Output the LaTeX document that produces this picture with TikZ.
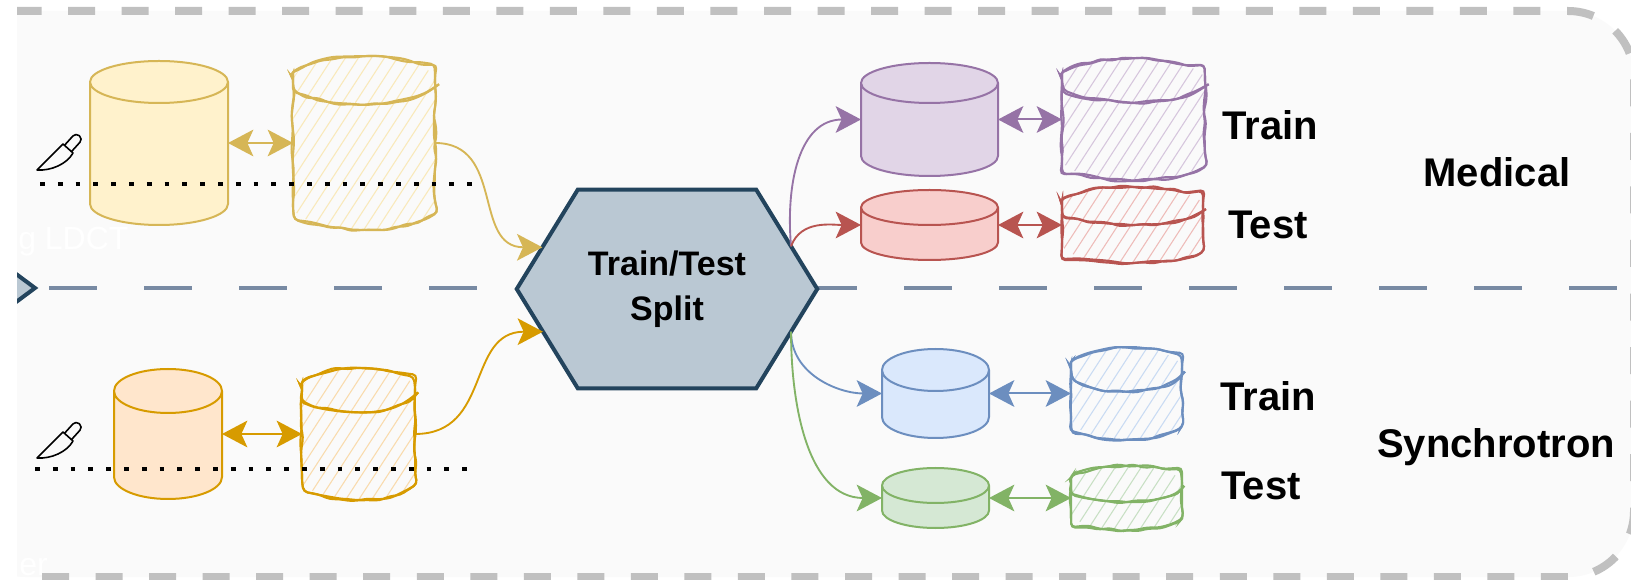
\documentclass[tikz,border=0pt]{standalone}
\usepackage{fontspec}
\setmainfont{Liberation Sans}
\usepackage{xcolor}
\definecolor{bgFill}{HTML}{FAFAFA}
\definecolor{rimGray}{HTML}{C0C0C0}
\definecolor{laneLine}{HTML}{788AA3}
\definecolor{hexFill}{HTML}{BAC8D3}
\definecolor{hexLine}{HTML}{23445D}
\definecolor{yelFill}{HTML}{FFF2CC}
\definecolor{yelLine}{HTML}{D6B656}
\definecolor{orgFill}{HTML}{FFE6CC}
\definecolor{orgLine}{HTML}{D79B00}
\definecolor{purFill}{HTML}{E1D5E7}
\definecolor{purLine}{HTML}{9673A6}
\definecolor{redFill}{HTML}{F8CECC}
\definecolor{redLine}{HTML}{B85450}
\definecolor{bluFill}{HTML}{DAE8FC}
\definecolor{bluLine}{HTML}{6C8EBF}
\definecolor{grnFill}{HTML}{D5E8D4}
\definecolor{grnLine}{HTML}{82B366}
\usepackage{tikz}
\usetikzlibrary{%
    arrows.meta,
    positioning,
    calc,
    decorations.pathmorphing
}

\tikzset{bigtip/.tip={Stealth[length=19pt, width=20pt, inset=4.5pt]}}

% body of a database drum filling node #1, cap half-height #2 (px)
\newcommand\dbbody[2]{%
  let \p1=(#1.north west), \p2=(#1.south east),
      \n1={(\x2-\x1)/2}, \n2={#2*0.75pt} in
  (\x1,\y1-\n2) -- (\x1,\y2+\n2)
  arc[start angle=180, end angle=360, x radius=\n1, y radius=\n2]
  -- (\x2,\y1-\n2)
  arc[start angle=0, end angle=180, x radius=\n1, y radius=\n2] -- cycle}
% front rim of the lid
\newcommand\dblid[2]{%
  let \p1=(#1.north west), \p2=(#1.south east),
      \n1={(\x2-\x1)/2}, \n2={#2*0.75pt} in
  (\x1,\y1-\n2) arc[start angle=180, end angle=360, x radius=\n1, y radius=\n2]}

\newcommand\plaindb[4]{%
  \draw[#3, fill=#4, line width=1.5pt] \dbbody{#1}{#2} \dblid{#1}{#2};}

% hand drawn drum: hatching, then two wobbly outlines
\newcommand\sketchdb[5]{%
  \begin{scope}
    \clip \dbbody{#1}{#2};
    \foreach \k in {-13,...,13}
      \draw[#4, line width=0.8pt] ($(#1.south)+(\k*13,0)$) -- ++(57:260);
  \end{scope}
  \pgfmathsetseed{#5}
  \foreach \pass in {1,2}{
    \pgfmathsetmacro\dx{2.5*rand}
    \pgfmathsetmacro\dy{2.5*rand}
    \draw[#3, line width=1.6pt, rounded corners=3pt, shift={(\dx,\dy)}, decorate,
          decoration={random steps, segment length=8pt, amplitude=1.3pt}]
      \dbbody{#1}{#2} \dblid{#1}{#2};}}

\newcommand\knife[1]{%
  \begin{scope}[shift={#1}, line width=1.2pt, line join=round, line cap=round]
    \draw (0,0) -- (26,26) -- (36,17) .. controls (30,6) and (14,-1) .. cycle;
    \draw[rounded corners=3.3pt] (27.5,24.7) -- (38.9,37.3) -- (45.9,31) -- (34.5,18.4);
  \end{scope}}

\begin{document}
\begin{tikzpicture}[x=0.75pt, y=0.75pt,
        db/.style 2 args={draw=none, inner sep=0pt, outer sep=0pt, minimum width=#1*0.75pt, minimum height=#2*0.75pt},
        hexa/.style={draw=none, inner sep=0pt, minimum width=225pt, minimum height=148.5pt},
        hexborder/.style={fill=hexFill, draw=hexLine, line width=3pt, line join=miter},
        hexlabel/.style={align=center, font=\bfseries\fontsize{25.5}{34}\selectfont},
        flow/.style={draw, line width=1.4pt, -bigtip},
        double_flow/.style={draw, line width=1.5pt, bigtip-bigtip},
        tag/.style={font=\bfseries\fontsize{30}{36}\selectfont, anchor=base, inner sep=0pt},
        ghost/.style={text=white, font=\fontsize{24}{28}\selectfont, anchor=base west, inner sep=0pt},
        cut/.style={draw, line width=3.6pt, dash pattern=on 3.6pt off 9.75pt},
        lane/.style={draw=laneLine, line width=3pt, dash pattern=on 36pt off 35.25pt, dash phase=62.25pt}
    ]

    \useasboundingbox (0,0) rectangle (1631,-580);
    \fill[white] (0,0) rectangle (1631,-580);

    \begin{scope}
        \clip (17,0) rectangle (1631,-580);
        \fill[bgFill, rounded corners=49.5pt] (-40,-11) -- (1634,-11) -- (1634,-577) -- (-40,-577) -- cycle;
        \draw[rimGray, line width=6pt, dash pattern=on 20.25pt off 19.9pt, dash phase=39.4pt, rounded corners=49.5pt]
            (-40,-11) -- (1634,-11) -- (1634,-577) -- (-40,-577);
        \draw[hexborder] (0,-262) -- (35,-288) -- (0,-314);
        \node[ghost] (ldct) at (18,-250) {g LDCT};
        \node[ghost] (tail) at (19,-575) {er};
    \end{scope}

    \coordinate (tipL) at (37,-288);
    \coordinate (rimR) at (1634,-288);
    \draw[lane] (tipL) -- (rimR);

    % split hexagon
    \node (split) [hexa] at (667,-289) {};
    \coordinate (hexNW) at ($(split.north west)+(61,0)$);
    \coordinate (hexNE) at ($(split.north east)+(-61,0)$);
    \coordinate (hexSE) at ($(split.south east)+(-61,0)$);
    \coordinate (hexSW) at ($(split.south west)+(61,0)$);
    \draw[hexborder] (split.west) -- (hexNW) -- (hexNE) -- (split.east) -- (hexSE) -- (hexSW) -- cycle;
    \node (splitText) [hexlabel] at (split.center) {Train/Test\\Split};
    \coordinate (inM) at ($(split.west)!0.42!(hexNW)$);
    \coordinate (inS) at ($(split.west)!0.43!(hexSW)$);
    \coordinate (outM) at ($(hexNE)!0.57!(split.east)$);
    \coordinate (outS) at ($(split.east)!0.43!(hexSE)$);

    % medical side
    \node (yelA) [db={138}{164}] at (159,-143) {};
    \node (yelB) [db={142}{173}, right=48.75pt of yelA] {};
    \plaindb{yelA}{21}{yelLine}{yelFill}
    \sketchdb{yelB}{24}{yelLine}{yelFill!85!yelLine}{3}

    % synchrotron side
    \node (orgA) [db={108}{130}] at (168,-434) {};
    \node (orgB) [db={113}{132}, right=60pt of orgA] {};
    \plaindb{orgA}{22}{orgLine}{orgFill}
    \sketchdb{orgB}{22}{orgLine}{orgFill!85!orgLine}{5}

    \node (purA) [db={137}{113}] at (929.5,-119.5) {};
    \node (purB) [db={143}{122}, right=48pt of purA] {};
    \plaindb{purA}{20}{purLine}{purFill}
    \sketchdb{purB}{22}{purLine}{purFill!85!purLine}{7}

    \node (redA) [db={137}{70}] at (929.5,-225) {};
    \node (redB) [db={141}{76}, right=48pt of redA] {};
    \plaindb{redA}{17.5}{redLine}{redFill}
    \sketchdb{redB}{19}{redLine}{redFill!85!redLine}{11}

    \node (bluA) [db={107}{89}] at (935.5,-393.5) {};
    \node (bluB) [db={111}{92}, right=61.5pt of bluA] {};
    \plaindb{bluA}{21}{bluLine}{bluFill}
    \sketchdb{bluB}{22}{bluLine}{bluFill!85!bluLine}{13}

    \node (grnA) [db={107}{60}] at (935.5,-498) {};
    \node (grnB) [db={111}{64}, right=61.5pt of grnA] {};
    \plaindb{grnA}{17.5}{grnLine}{grnFill}
    \sketchdb{grnB}{18}{grnLine}{grnFill!85!grnLine}{17}

    \knife{(37,-170)}
    \knife{(37,-458)}
    \draw[cut] (40,-184) -- (473,-184);
    \draw[cut] (35,-469) -- (468,-469);

    \draw[double_flow, yelLine] (yelA.east) -- (yelB.west);
    \draw[double_flow, orgLine] (orgA.east) -- (orgB.west);
    \draw[double_flow, purLine] (purA.east) -- (purB.west);
    \draw[double_flow, redLine] (redA.east) -- (redB.west);
    \draw[double_flow, bluLine] (bluA.east) -- (bluB.west);
    \draw[double_flow, grnLine] (grnA.east) -- (grnB.west);

    \draw[flow, yelLine] (yelB.east) to[out=0, in=180, looseness=1.2] (inM);
    \draw[flow, orgLine] (orgB.east) to[out=0, in=180, looseness=1.2] (inS);
    \draw[flow, purLine] (outM) to[out=95, in=180, looseness=1.1] (purA.west);
    \draw[flow, redLine] (outM) to[out=70, in=180] (redA.west);
    \draw[flow, bluLine] (outS) to[out=-90, in=180] (bluA.west);
    \draw[flow, grnLine] (outS) to[out=-90, in=180] (grnA.west);

    \node[tag] (trainM) at (1270,-140) {Train};
    \node[tag] (testM) at (1268,-239) {Test};
    \node[tag] (medical) at (1497,-187) {Medical};
    \node[tag] (trainS) at (1268,-411) {Train};
    \node[tag] (testS) at (1261,-499) {Test};
    \node[tag] (synchro) at (1496,-458) {Synchrotron};
\end{tikzpicture}
\end{document}
